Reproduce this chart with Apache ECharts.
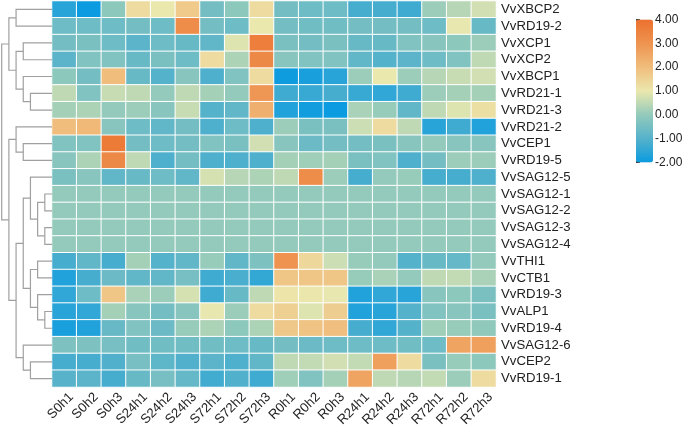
<!DOCTYPE html>
<html>
<head>
<meta charset="utf-8">
<style>html,body{margin:0;padding:0;background:#fff}#main{width:685px;height:425px}</style>
<script src="https://cdn.jsdelivr.net/npm/echarts@6/dist/echarts.min.js"></script>
</head>
<body>
<div id="main"></div>
<script>
var samples = ['S0h1','S0h2','S0h3','S24h1','S24h2','S24h3','S72h1','S72h2','S72h3','R0h1','R0h2','R0h3','R24h1','R24h2','R24h3','R72h1','R72h2','R72h3'];
var genes = ['VvXBCP2','VvRD19-2','VvXCP1','VvXCP2','VvXBCP1','VvRD21-1','VvRD21-3','VvRD21-2','VvCEP1','VvRD19-5','VvSAG12-5','VvSAG12-1','VvSAG12-2','VvSAG12-3','VvSAG12-4','VvTHI1','VvCTB1','VvRD19-3','VvALP1','VvRD19-4','VvSAG12-6','VvCEP2','VvRD19-1'];
var values = [
  [-1.6,-2,-0.1,1.3,1.0,1.7,-0.5,-0.1,1.3,-0.5,-0.6,-0.6,-1.2,-1.2,-1.3,0.1,0.4,0.7],
  [-0.6,-0.6,-0.6,-0.5,-0.6,3.2,-0.5,-0.6,1.0,-0.5,-0.55,-0.55,-0.5,-0.5,-0.5,-0.6,0.95,-0.7],
  [-0.5,-0.4,-0.6,-0.9,-0.6,-0.7,-0.8,0.85,3.6,-0.4,-0.5,-0.4,-0.7,-0.7,-0.3,-0.2,-0.1,0.1],
  [-0.9,-0.3,-0.3,-0.7,-0.4,-0.6,1.3,0.3,3.3,-0.2,-0.3,-0.3,-0.8,-1.0,-0.9,-0.6,-0.3,0.5],
  [-0.1,-0.5,2.0,-0.7,-1.0,-0.2,-1.1,-0.3,1.3,-1.95,-1.8,-1.6,0.1,1.0,0.1,0.4,0.6,0.7],
  [0.5,-0.3,0.6,0.5,0.0,0.5,0.2,0.0,2.9,-1.3,-1.4,-1.2,-1.4,-1.5,-1.3,0.1,0.2,0.2],
  [0.2,0.3,0.0,0.1,-0.2,0.6,-1.0,-0.8,2.3,-1.7,-1.9,-2,0.25,0.05,-0.8,0.5,0.85,1.2],
  [2.0,2.1,-0.2,-0.6,-0.8,-0.5,-1.1,-0.6,-1.1,0.1,-0.4,-0.4,0.65,1.3,0.5,-1.6,-1.3,-1.7],
  [-0.3,-0.3,3.7,-0.5,-0.6,-0.5,-0.3,-0.4,0.7,-0.2,-0.65,-0.5,-0.5,-0.4,-0.2,0,-0.2,-0.2],
  [-0.2,0.3,3.3,0.5,-1.1,-0.5,-1.1,-1.1,-1.1,0.2,0.15,0.2,-0.4,-0.3,-1.1,-0.5,0.1,0.1],
  [-0.4,-0.2,-0.8,-0.7,-0.6,-0.8,0.75,0.4,0.3,0.5,3.2,0.1,-1.2,0,0.05,-1.2,-1.2,-1.1],
  [0,0,0,0,0,0,0,0,0,0,0,0,0,0,0,0,0,0],
  [0,0,0,0,0,0,0,0,0,0,0,0,0,0,0,0,0,0],
  [0,0,0,0,0,0,0,0,0,0,0,0,0,0,0,0,0,0],
  [0,0,0,0,0,0,0,0,0,0,0,0,0,0,0,0,0,0],
  [-1.2,-0.8,-1.2,0.2,-1.0,-0.8,0.05,-0.8,-0.35,3.0,1.4,0.65,0.05,0,-1.0,-0.7,-0.75,0],
  [-1.7,-1.2,-0.65,-0.8,-0.8,-0.45,-1.3,-1.15,-1.45,1.8,1.8,1.8,0.05,0.25,0,0.5,0.55,0.25],
  [-1.5,-0.6,1.8,0.25,0.1,0.75,-1.3,-0.7,0.5,1.1,1.05,0.95,-1.7,-1.5,-1.6,-0.2,-0.1,-0.4],
  [-1.6,-1.5,0.2,-0.2,-0.5,-0.2,0.95,0.1,1.3,1.55,0.85,1.6,-1.7,-1.6,-1.0,-0.3,-0.2,-0.4],
  [-1.8,-1.7,-0.7,-0.3,-0.65,0.05,0.3,-0.1,0.3,1.75,1.85,1.95,-1.2,-1.5,-1.0,0.15,0.05,-0.05],
  [-0.35,-0.35,-0.45,-0.55,-0.55,-0.55,-0.55,-0.6,-0.7,-0.5,-0.65,-0.6,-0.6,-0.6,-0.55,-0.6,2.6,2.7],
  [-1.2,-1.2,-1.05,-0.45,-0.85,-1.05,-0.9,-1.1,-0.8,0.5,0.55,0.7,0.55,2.7,1.3,-0.4,0.05,-0.1],
  [-0.95,-0.9,-1.2,-0.7,-0.45,-0.75,-1.25,-1.05,-1.3,0.15,-0.3,0.2,2.6,0.5,0.4,0.55,0.1,1.3]
];
var colorStops = ['#0a9be0','#55b2cb','#93cabb','#ebe8ae','#f0bd7c','#ee9350','#ec702e'];

// dendrogram: [level, child, child], a plain number is a row of the heatmap
var leafLevel = 7;
var tree = [0,
  [1,
    [2, 0, 1],
    [2, [3, 2, 3], [3, 4, [4, 5, 6]]]
  ],
  [1,
    [2, 7, [3, 8, 9]],
    [2,
      [3,
        [4, 10, [5, [6, 11, 12], [6, 13, 14]]],
        [4, [5, 15, 16], [5, 17, [6, 18, 19]]]
      ],
      [3, 20, [4, 21, 22]]
    ]
  ]
];

var treeLines = [];
function walk(node) {
  if (typeof node === 'number') return {x: leafLevel, y: node + 0.5};
  var a = walk(node[1]);
  var b = walk(node[2]);
  treeLines.push({coords: [[a.x, a.y], [node[0], a.y], [node[0], b.y], [b.x, b.y]]});
  return {x: node[0], y: (a.y + b.y) / 2};
}
walk(tree);

var cells = [];
genes.forEach(function (g, r) {
  samples.forEach(function (s, c) {
    cells.push([c, r, values[r][c]]);
  });
});

var labelFont = 'Liberation Sans';
var myChart = echarts.init(document.getElementById('main'));
myChart.setOption({
  animation: false,
  backgroundColor: '#fff',
  grid: [
    {left: 52, top: 1, width: 444, height: 386, outerBoundsMode: 'none'},
    {left: 1.7, top: 1, width: 50.3, height: 386, outerBoundsMode: 'none'},
    {left: 636, top: 19.5, width: 17, height: 143, outerBoundsMode: 'none'}
  ],
  xAxis: [
    {
      type: 'category', data: samples, gridIndex: 0, position: 'bottom',
      axisLine: {show: false}, axisTick: {show: false}, splitLine: {show: false},
      axisLabel: {rotate: 45, interval: 0, margin: 1, verticalAlign: 'top', lineHeight: 20, fontFamily: labelFont, fontSize: 13.2, color: '#222'}
    },
    {type: 'value', gridIndex: 1, min: 0, max: leafLevel, show: false},
    {type: 'value', gridIndex: 2, min: 0, max: 1, show: false}
  ],
  yAxis: [
    {
      type: 'category', data: genes, gridIndex: 0, inverse: true, position: 'right',
      axisLine: {show: false}, axisTick: {show: false}, splitLine: {show: false},
      axisLabel: {interval: 0, margin: 5, fontFamily: labelFont, fontSize: 13.2, color: '#222'}
    },
    {type: 'value', gridIndex: 1, min: 0, max: genes.length, inverse: true, show: false},
    {
      type: 'value', gridIndex: 2, min: -2, max: 4, interval: 1, position: 'right',
      axisLine: {show: true, lineStyle: {color: '#333', width: 1}},
      axisTick: {show: true, length: 4, lineStyle: {color: '#333'}},
      splitLine: {show: false},
      axisLabel: {
        margin: 2, fontFamily: labelFont, fontSize: 12, color: '#222',
        formatter: function (v) { return v.toFixed(2); }
      }
    }
  ],
  visualMap: {
    type: 'continuous', seriesIndex: 0, min: -2, max: 4,
    left: 636, top: 19.5, itemWidth: 17, itemHeight: 143, padding: 0,
    calculable: false, showLabel: false, text: null,
    inRange: {color: colorStops}
  },
  series: [
    {
      type: 'heatmap', data: cells, xAxisIndex: 0, yAxisIndex: 0,
      itemStyle: {borderColor: '#fff', borderWidth: 1},
      emphasis: {disabled: true}
    },
    {
      type: 'lines', coordinateSystem: 'cartesian2d', polyline: true,
      xAxisIndex: 1, yAxisIndex: 1, silent: true, data: treeLines,
      lineStyle: {color: '#a0a0a0', width: 1.2, opacity: 1}
    }
  ]
});
</script>
</body>
</html>
